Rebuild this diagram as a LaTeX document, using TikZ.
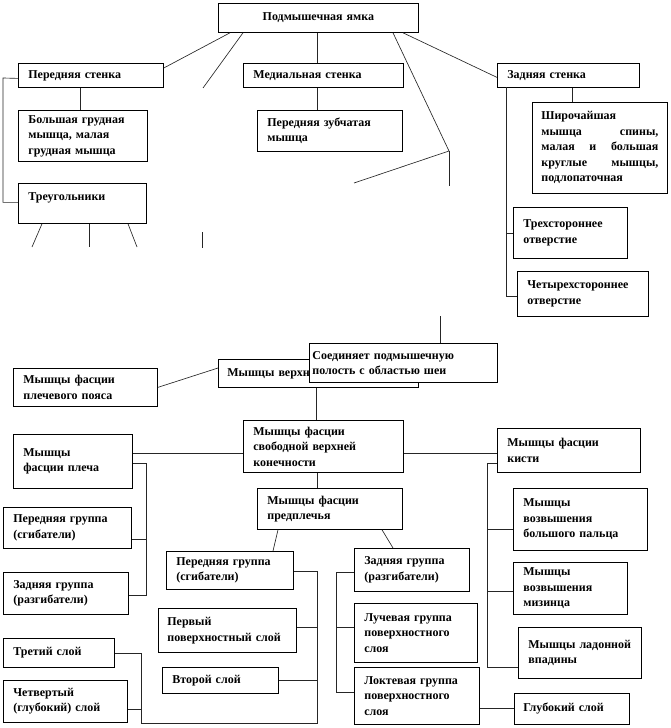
\documentclass[tikz,border=0pt]{standalone}
\usepackage{fontspec}
\setmainfont{Liberation Serif}
\newcommand\updepth[2]{\raisebox{0pt}[\height][\dimexpr\depth+#1\relax]{#2}}
\tikzset{
  box/.style={draw=black, line width=0.8pt, fill=white, inner xsep=10pt, inner ysep=1pt,
    align=left, anchor=north west, font=\bfseries\fontsize{12}{15.5}\selectfont},
  ln/.style={draw=black!85, line width=0.65pt},
}
\begin{document}
\begin{tikzpicture}[x=1pt,y=-1pt]
\useasboundingbox (0,0) rectangle (670,728);
% ---- boxes ----
\node[box, align=center, minimum width=200pt, minimum height=29pt, text width=180pt] (top) at (218,3) {Подмышечная ямка};
\node[box, minimum width=145pt, minimum height=24pt, text width=125pt] (pst) at (18,63) {Передняя стенка};
\node[box, minimum width=160pt, minimum height=24pt, text width=140pt] (mst) at (243,63) {Медиальная стенка};
\node[box, minimum width=142pt, minimum height=24pt, text width=122pt] (zst) at (497,63) {Задняя стенка};
\node[box, minimum width=129pt, minimum height=51pt, text width=109pt] (bgm) at (18,110) {Большая грудная\\мышца, малая\\грудная мышца};
\node[box, minimum width=145pt, minimum height=41pt, text width=125pt] (pzm) at (257,110) {Передняя зубчатая\\мышца};
\node[box, inner xsep=9pt, minimum width=135pt, minimum height=91pt, text width=117pt] (shir) at (532,102) {Широчайшая\\мышца \hfill спины,\\малая \hfill и \hfill большая\\круглые \hfill мышцы,\\подлопаточная};
\node[box, minimum width=128pt, minimum height=40pt, text width=108pt] (tri) at (18,183) {\updepth{12pt}{Треугольники}};
\node[box, minimum width=114pt, minimum height=51pt, text width=94pt] (tr3) at (513,207) {Трехстороннее\\отверстие};
\node[box, minimum width=131pt, minimum height=45pt, text width=111pt] (tr4) at (517,271) {Четырехстороннее\\отверстие};
\node[box, inner xsep=9pt, minimum width=200pt, minimum height=28pt, text width=182pt] (mvk) at (218,359) {Мышцы верхней конечности};
\node[box, inner xsep=3pt, minimum width=188pt, minimum height=39pt, text width=182pt] (soed) at (309,343) {Соединяет подмышечную\\полость с областью шеи};
\node[box, minimum width=144pt, minimum height=38pt, text width=124pt] (mfpp) at (13,368) {Мышцы фасции\\плечевого пояса};
\node[box, minimum width=160pt, minimum height=52pt, text width=140pt] (mfsvk) at (243,420) {Мышцы фасции\\свободной верхней\\конечности};
\node[box, minimum width=119pt, minimum height=54pt, text width=99pt] (mfpl) at (13,434) {Мышцы\\фасции плеча};
\node[box, minimum width=143pt, minimum height=44pt, text width=123pt] (mfk) at (497,428) {Мышцы фасции\\кисти};
\node[box, minimum width=145pt, minimum height=41pt, text width=125pt] (mfpr) at (257,488) {Мышцы фасции\\предплечья};
\node[box, minimum width=128pt, minimum height=41pt, text width=108pt] (pg1) at (3,507) {Передняя группа\\(сгибатели)};
\node[box, minimum width=125pt, minimum height=42pt, text width=105pt] (zg1) at (3,572) {Задняя группа\\(разгибатели)};
\node[box, minimum width=134pt, minimum height=62pt, text width=114pt] (bp) at (513,488) {Мышцы\\возвышения\\большого пальца};
\node[box, minimum width=127pt, minimum height=38pt, text width=107pt] (pg2) at (166,551) {Передняя группа\\(сгибатели)};
\node[box, minimum width=115pt, minimum height=43pt, text width=95pt] (zg2) at (354,548) {Задняя группа\\(разгибатели)};
\node[box, minimum width=114pt, minimum height=52pt, text width=94pt] (miz) at (513,562) {Мышцы\\возвышения\\мизинца};
\node[box, inner xsep=9pt, minimum width=138pt, minimum height=44pt, text width=120pt] (perv) at (158,608) {Первый\\поверхностный слой};
\node[box, minimum width=123pt, minimum height=59pt, text width=103pt] (luch) at (354,603) {Лучевая группа\\поверхностного\\слоя};
\node[box, minimum width=123pt, minimum height=51pt, text width=103pt] (lad) at (518,627) {Мышцы ладонной\\впадины};
\node[box, minimum width=111pt, minimum height=29pt, text width=91pt] (tret) at (3,638) {Третий слой};
\node[box, minimum width=116pt, minimum height=26pt, text width=96pt] (vtor) at (162,667) {Второй слой};
\node[box, minimum width=124pt, minimum height=42pt, text width=104pt] (chet) at (3,680) {Четвертый\\(глубокий) слой};
\node[box, minimum width=125pt, minimum height=57pt, text width=105pt] (lokt) at (354,667) {Локтевая группа\\поверхностного\\слоя};
\node[box, inner xsep=9pt, minimum width=115pt, minimum height=31pt, text width=97pt] (glub) at (514,693) {Глубокий слой};
% ---- free ends and bends ----
\coordinate (f1) at (203,88);
\coordinate (j1) at (449,151);
\coordinate (f2) at (354,183);
\coordinate (f3) at (449,186);
\coordinate (b1) at (3,78);
\coordinate (t1) at (32,247);
\coordinate (t2) at (89,247);
\coordinate (t3) at (137,247);
\coordinate (f4) at (202,232);
\coordinate (f5) at (202,248);
\coordinate (zb) at (506,87);
\coordinate (f6) at (440,316);
\coordinate (b2) at (146,463);
\coordinate (b3) at (487,463);
\coordinate (c1) at (317,571);
\coordinate (c2) at (317,723);
\coordinate (c3) at (141,723);
\coordinate (d1) at (336,572);
% ---- connectors ----
\draw[ln] ([xshift=12pt]top.south west) -- ([yshift=-5pt]pst.north east);
\draw[ln] ([xshift=25pt]top.south west) -- (f1);
\draw[ln] ([xshift=99pt]top.south west) coordinate (a1) -- (a1 |- mst.north);
\draw[ln] (a1 |- mst.south) -- (a1 |- pzm.north);
\draw[ln] ([xshift=175pt]top.south west) -- (j1) -- (f2);
\draw[ln] (j1) -- (f3);
\draw[ln] ([xshift=185pt]top.south west) -- ([yshift=-2pt]zst.west);
\draw[ln] ([xshift=62pt]pst.south west) coordinate (a2) -- (a2 |- bgm.north);
\draw[ln] ([yshift=-3pt]pst.west) -- (b1) |- ([yshift=1pt]tri.west);
\draw[ln] ([xshift=24pt]tri.south west) -- (t1);
\draw[ln] ([xshift=71pt]tri.south west) -- (t2);
\draw[ln] ([xshift=110pt]tri.south west) -- (t3);
\draw[ln] (f4) -- (f5);
\draw[ln] ([xshift=75pt]zst.south west) coordinate (a3) -- (a3 |- shir.north);
\draw[ln] (zb) |- ([yshift=-2.5pt]tr4.west);
\draw[ln] (zb |- tr3.west) -- (tr3.west);
\draw[ln] (f6) -- (f6 |- soed.north);
\draw[ln] ([yshift=-9pt]mvk.north west) -- (mfpp.east);
\draw[ln] ([xshift=98pt]mvk.south west) coordinate (a4) -- (a4 |- mfsvk.north);
\draw[ln] ([yshift=-33pt]mfsvk.north west) coordinate (a5) -- (a5 -| mfpl.east);
\draw[ln] ([yshift=-33pt]mfsvk.north east) coordinate (a6) -- (a6 -| mfk.west);
\draw[ln] ([xshift=74pt]mfsvk.south west) coordinate (a7) -- (a7 |- mfpr.north);
\draw[ln] ([yshift=-29pt]mfpl.north east) -- (b2) |- ([yshift=-23pt]zg1.north east);
\draw[ln] ([yshift=-32pt]pg1.north east) coordinate (a8) -- (a8 -| b2);
\draw[ln] ([yshift=-35pt]mfk.north west) -- (b3) |- ([yshift=-40pt]lad.north west);
\draw[ln] ([yshift=-41pt]bp.north west) coordinate (a9) -- (a9 -| b3);
\draw[ln] ([yshift=-29pt]miz.north west) coordinate (a10) -- (a10 -| b3);
\draw[ln] ([xshift=21pt]mfpr.south west) -- ([xshift=107pt]pg2.north west);
\draw[ln] ([xshift=125pt]mfpr.south west) -- ([xshift=39pt]zg2.north west);
\draw[ln] ([yshift=-20pt]pg2.north east) -- (c1) -- (c2) -- (c3) |- (tret.east);
\draw[ln] ([yshift=-19pt]perv.north east) coordinate (a11) -- (a11 -| c1);
\draw[ln] ([yshift=-13pt]vtor.north east) coordinate (a12) -- (a12 -| c1);
\draw[ln] ([yshift=-29pt]chet.north east) coordinate (a13) -- (a13 -| c3);
\draw[ln] ([yshift=-24pt]zg2.north west) -- (d1) |- ([yshift=-25pt]lokt.north west);
\draw[ln] ([yshift=-24pt]luch.north west) coordinate (a14) -- (a14 -| d1);
\draw[ln] ([yshift=-41pt]lokt.north east) coordinate (a15) -- (a15 -| glub.west);
\end{tikzpicture}
\end{document}
